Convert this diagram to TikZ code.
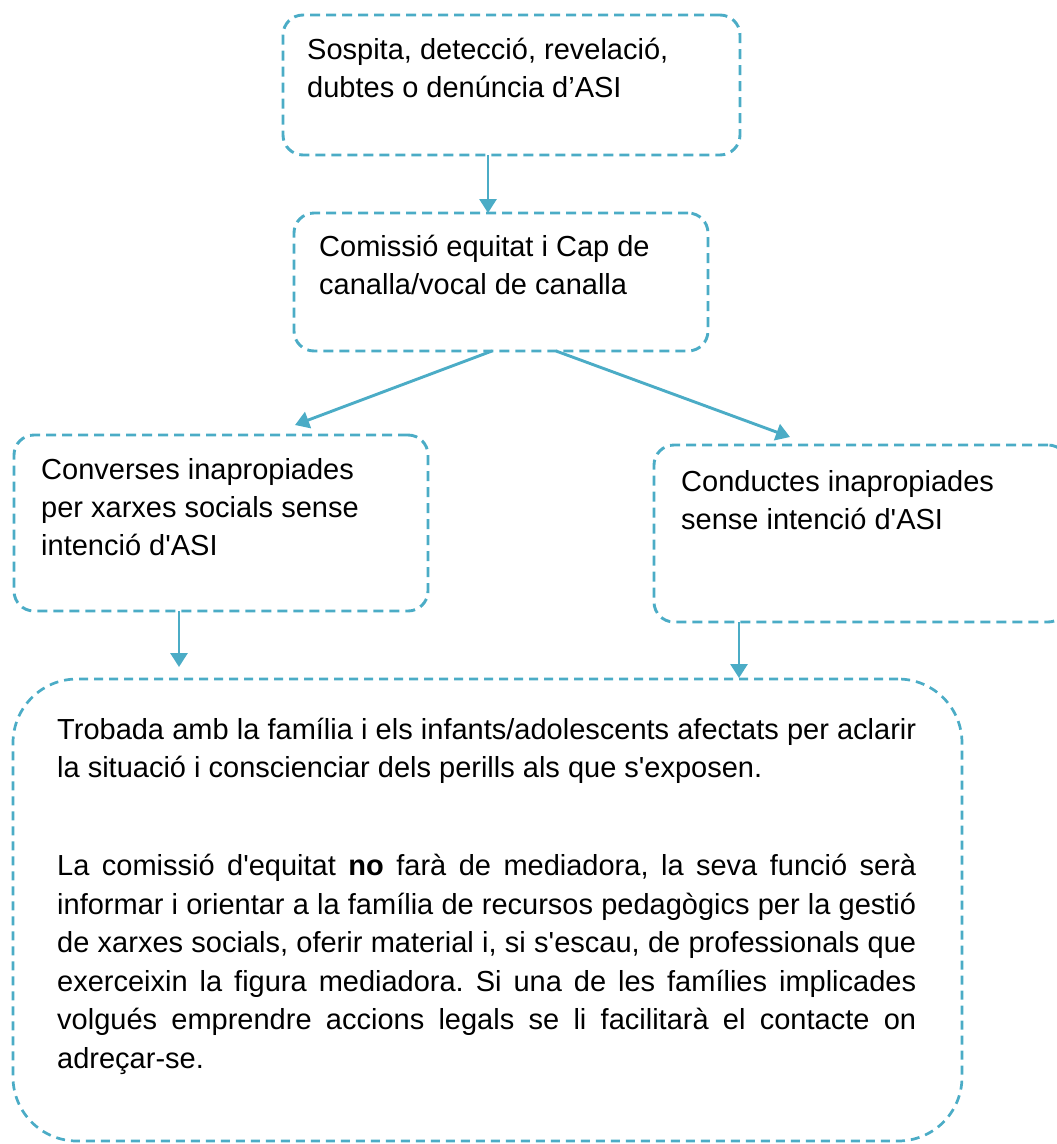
\documentclass[tikz,border=0pt]{standalone}
\usepackage{fontspec}
\setmainfont{Liberation Sans}[Ligatures=TeXOff]
\usetikzlibrary{arrows.meta}
\definecolor{accent}{RGB}{75,172,198}
\newcommand{\st}{\rule{0pt}{25pt}}
\newlength{\bw}\setlength{\bw}{859pt}
\newcommand{\jl}[1]{\makebox[\bw][s]{#1}}
\frenchspacing
\tikzset{
  box/.style={draw=accent, line width=2.9pt, dash pattern=on 10pt off 6pt,
    rounded corners=20pt, anchor=north west, inner sep=0pt, outer sep=0pt},
  arr/.style={draw=accent, line width=2.9pt, -{Triangle[length=14pt,width=17pt]}},
  txt/.style={anchor=north west, inner sep=0pt, align=left,
    font=\fontsize{29}{38}\selectfont},
}
\begin{document}
\begin{tikzpicture}[x=1pt,y=-1pt]
\useasboundingbox (0,0) rectangle (1057,1144);
% boxes
\node[box, minimum width=457pt, minimum height=140pt] (b1) at (283,15) {};
\node[box, minimum width=414pt, minimum height=138pt] (b2) at (294,213) {};
\node[box, minimum width=414pt, minimum height=176pt] (b3) at (14,435) {};
\node[box, minimum width=414pt, minimum height=177pt] (b4) at (654,445) {};
\node[box, minimum width=949pt, minimum height=462pt, rounded corners=64pt,
      line width=2.7pt, dash pattern=on 9pt off 6pt] (b5) at (13,679) {};
% texts
\node[txt] (t1) at (307,34) {\st Sospita, detecció, revelació,\\dubtes o denúncia d’ASI};
\node[txt] (t2) at (319,231) {\st Comissió equitat i Cap de\\canalla/vocal de canalla};
\node[txt] (t3) at (41,454) {\st Converses inapropiades\\per xarxes socials sense\\intenció d'ASI};
\node[txt] (t4) at (681,466) {\st Conductes inapropiades\\sense intenció d'ASI};
\node[txt, font=\fontsize{29}{38.5}\selectfont] (t5) at (57,714) {%
\st\jl{Trobada amb la família i els infants/adolescents afectats per aclarir}\\
la situació i conscienciar dels perills als que s'exposen.\\[59.5pt]
\jl{La comissió d'equitat \textbf{no} farà de mediadora, la seva funció serà}\\
\jl{informar i orientar a la família de recursos pedagògics per la gestió}\\
\jl{de xarxes socials, oferir material i, si s'escau, de professionals que}\\
\jl{exerceixin la figura mediadora. Si una de les famílies implicades}\\
\jl{volgués emprendre accions legals se li facilitarà el contacte on}\\
adreçar-se.};
% connectors
\draw[arr] ([xshift=-23.5pt]b1.south) -- ([xshift=-13pt]b2.north);
\draw[arr] ([xshift=-9pt]b2.south) -- ([xshift=74pt,yshift=10pt]b3.north);
\draw[arr] ([xshift=55pt]b2.south) -- ([xshift=-71pt,yshift=8pt]b4.north);
\draw[arr] ([xshift=-42pt]b3.south) -- ([xshift=-308.5pt,yshift=12pt]b5.north);
\draw[arr] ([xshift=-122pt]b4.south) -- ([xshift=251.5pt,yshift=1pt]b5.north);
\end{tikzpicture}
\end{document}
